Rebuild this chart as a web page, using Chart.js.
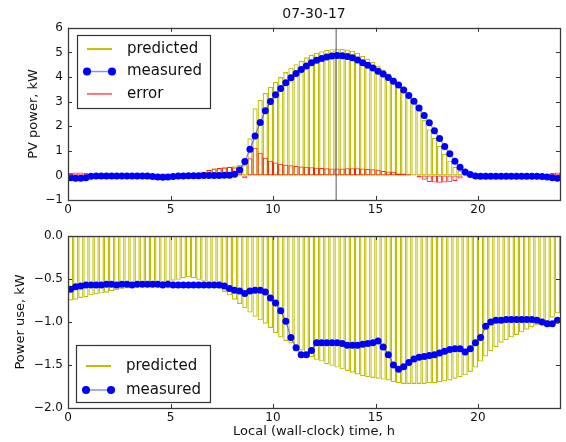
<!DOCTYPE html>
<html><head><meta charset="utf-8">
<script src="https://cdn.jsdelivr.net/npm/chart.js@4.4.1/dist/chart.umd.min.js"></script>
<style>
html,body{margin:0;padding:0;background:#fff;}
#wrap{position:relative;width:566px;height:442px;overflow:hidden;}
canvas{position:absolute;left:0;}
#c1{top:0;} #c2{top:222px;}
</style></head><body>
<div id="wrap"><canvas id="c1" width="566" height="222"></canvas><canvas id="c2" width="566" height="220"></canvas></div>
<script>
const chartTitle = '07-30-17';
const slotLength = 0.25;           // hours per interval
const slotCount = 96;
const slotHours = Array.from({length: slotCount}, (_, i) => i * slotLength + slotLength / 2);

const xTicks = [0, 5, 10, 15, 20];
const pvTicks = [-1, 0, 1, 2, 3, 4, 5, 6];
const useTicks = [-2, -1.5, -1, -0.5, 0];
const nowMarker = 13.08;

const pvPredicted = [
  0,0,0,0,0,0,0,0,0,0,0,0,
  0,0,0,0,0,0,0,0,0,0,0,0,
  0,0.05,0.15,0.22,0.28,0.30,0.33,0.35,0.37,0.42,0.44,1.51,
  2.73,3.07,3.35,3.60,3.80,4.00,4.20,4.38,4.52,4.66,4.80,4.90,
  4.98,5.05,5.10,5.13,5.15,5.14,5.12,5.07,4.98,4.86,4.74,4.62,
  4.46,4.30,4.14,3.98,3.75,3.55,3.30,3.00,2.65,2.25,1.87,1.53,
  1.20,0.88,0.60,0.35,0.20,0.12,0.05,0,0,0,0,0,
  0,0,0,0,0,0,0,0,0,0,0,0
];
const pvMeasured = [
  -0.10,-0.12,-0.12,-0.10,-0.03,-0.02,-0.02,-0.02,-0.02,-0.02,-0.02,-0.02,
  -0.02,-0.02,-0.02,-0.02,-0.04,-0.07,-0.08,-0.06,-0.04,-0.02,-0.02,-0.01,
  -0.01,-0.01,0.00,0.00,0.00,0.00,0.01,0.01,0.05,0.22,0.56,1.06,
  1.60,2.15,2.63,3.00,3.28,3.53,3.77,3.97,4.14,4.30,4.45,4.58,
  4.68,4.75,4.81,4.85,4.87,4.86,4.83,4.78,4.69,4.58,4.48,4.37,
  4.23,4.12,3.98,3.83,3.67,3.47,3.25,3.01,2.74,2.43,2.14,1.82,
  1.50,1.17,0.88,0.58,0.33,0.14,0.04,-0.02,-0.03,-0.03,-0.03,-0.03,
  -0.03,-0.03,-0.03,-0.03,-0.03,-0.03,-0.03,-0.03,-0.04,-0.06,-0.10,-0.12
];
const pvError = [
  0.10,0.12,0.12,0.10,0.03,0.02,0.02,0.02,0.02,0.02,0.02,0.02,
  0.02,0.02,0.02,0.02,0.04,0.07,0.08,0.06,0.04,0.02,0.02,0.01,
  0.01,0.06,0.15,0.22,0.28,0.30,0.32,0.34,0.32,0.20,-0.12,0.70,
  1.12,0.92,0.72,0.60,0.52,0.47,0.43,0.41,0.38,0.36,0.35,0.33,
  0.31,0.30,0.29,0.28,0.28,0.28,0.29,0.29,0.29,0.28,0.26,0.25,
  0.23,0.18,0.16,0.15,0.08,0.08,0.05,-0.01,-0.09,-0.18,-0.27,-0.29,
  -0.30,-0.29,-0.28,-0.23,-0.13,-0.02,0.01,0.02,0.03,0.03,0.03,0.03,
  0.03,0.03,0.03,0.03,0.03,0.03,0.03,0.03,0.04,0.06,0.10,0.12
];
const usePredicted = [
  -0.75,-0.74,-0.72,-0.71,-0.69,-0.68,-0.67,-0.66,-0.64,-0.63,-0.62,-0.61,
  -0.59,-0.58,-0.57,-0.56,-0.55,-0.55,-0.54,-0.53,-0.52,-0.51,-0.49,-0.48,
  -0.49,-0.51,-0.53,-0.55,-0.57,-0.60,-0.65,-0.69,-0.74,-0.79,-0.84,-0.89,
  -0.94,-0.98,-1.02,-1.07,-1.13,-1.18,-1.22,-1.25,-1.29,-1.33,-1.37,-1.41,
  -1.44,-1.46,-1.49,-1.51,-1.53,-1.55,-1.57,-1.59,-1.61,-1.63,-1.64,-1.65,
  -1.66,-1.67,-1.68,-1.70,-1.71,-1.72,-1.72,-1.72,-1.72,-1.72,-1.71,-1.71,
  -1.70,-1.69,-1.68,-1.66,-1.64,-1.62,-1.58,-1.53,-1.46,-1.40,-1.34,-1.29,
  -1.24,-1.21,-1.18,-1.15,-1.12,-1.09,-1.06,-1.04,-1.02,-0.99,-0.95,-0.90
];
const useMeasured = [
  -0.62,-0.59,-0.58,-0.57,-0.57,-0.57,-0.57,-0.56,-0.56,-0.57,-0.56,-0.56,
  -0.57,-0.56,-0.56,-0.56,-0.56,-0.56,-0.57,-0.56,-0.57,-0.57,-0.57,-0.57,
  -0.57,-0.57,-0.57,-0.57,-0.57,-0.57,-0.58,-0.61,-0.63,-0.64,-0.67,-0.64,
  -0.63,-0.63,-0.65,-0.72,-0.78,-0.87,-0.99,-1.18,-1.30,-1.38,-1.38,-1.33,
  -1.24,-1.24,-1.24,-1.24,-1.24,-1.25,-1.27,-1.27,-1.27,-1.26,-1.25,-1.24,
  -1.22,-1.29,-1.38,-1.50,-1.55,-1.52,-1.47,-1.43,-1.41,-1.40,-1.39,-1.38,
  -1.36,-1.34,-1.32,-1.31,-1.31,-1.35,-1.31,-1.24,-1.18,-1.05,-1.00,-0.98,
  -0.98,-0.97,-0.97,-0.97,-0.97,-0.97,-0.97,-0.98,-1.00,-1.02,-1.02,-0.98
];

Chart.defaults.font.family = '"DejaVu Sans", sans-serif';
Chart.defaults.color = '#111';

const YEL = '#bfbf00', BLUE = '#0000ff', BLUE_LINE = 'rgba(0,0,255,0.45)', RED = 'rgba(255,0,0,0.8)', RED_LEG = 'rgba(255,0,0,0.55)';
const pts = vals => vals.map((v, i) => ({x: slotHours[i], y: v}));
const minus = s => String(s).replace('-', '\u2212');

const mplDecor = {
  id: 'mplDecor',
  afterDraw(chart, args, opts) {
    const ctx = chart.ctx, a = chart.chartArea, xs = chart.scales.x, ys = chart.scales.y;
    ctx.save();
    ctx.strokeStyle = '#333'; ctx.lineWidth = 1;
    ctx.beginPath();
    xs.ticks.forEach(t => {
      const p = Math.round(xs.getPixelForValue(t.value)) + 0.5;
      ctx.moveTo(p, a.bottom); ctx.lineTo(p, a.bottom - 4);
      ctx.moveTo(p, a.top); ctx.lineTo(p, a.top + 4);
    });
    ys.ticks.forEach(t => {
      const p = Math.round(ys.getPixelForValue(t.value)) + 0.5;
      ctx.moveTo(a.left, p); ctx.lineTo(a.left + 4, p);
      ctx.moveTo(a.right, p); ctx.lineTo(a.right - 4, p);
    });
    ctx.stroke();
    ctx.lineWidth = 1.3; ctx.strokeStyle = '#3a3a3a';
    ctx.strokeRect(Math.round(a.left) + 0.5, Math.round(a.top) + 0.5, Math.round(a.right - a.left), Math.round(a.bottom - a.top));
    // legend
    const L = opts;
    const items = chart.data.datasets.filter(d => d.label);
    const bx = a.left + L.dx, by = L.fromBottom ? a.bottom - L.dy - L.h : a.top + L.dy;
    ctx.fillStyle = '#fff';
    ctx.fillRect(bx, by, L.w, L.h);
    ctx.lineWidth = 1.2; ctx.strokeStyle = '#333';
    ctx.strokeRect(Math.round(bx) + 0.5, Math.round(by) + 0.5, L.w, L.h);
    ctx.font = '15px "DejaVu Sans"'; ctx.textBaseline = 'middle'; ctx.textAlign = 'left';
    items.forEach((d, k) => {
      const y = by + L.row0 + k * L.step;
      const x0 = bx + 10, x1 = bx + 35;
      if (d.type === 'line') {
        ctx.strokeStyle = d.borderColor; ctx.lineWidth = 1.5;
        ctx.beginPath(); ctx.moveTo(x0, y); ctx.lineTo(x1, y); ctx.stroke();
        ctx.fillStyle = d.pointBackgroundColor;
        [x0, x1].forEach(x => { ctx.beginPath(); ctx.arc(x, y, 4, 0, Math.PI * 2); ctx.fill(); });
      } else {
        ctx.strokeStyle = d.legendColor || d.borderColor; ctx.lineWidth = 2;
        ctx.beginPath(); ctx.moveTo(x0, y); ctx.lineTo(x1, y); ctx.stroke();
      }
      ctx.fillStyle = '#111';
      ctx.fillText(d.label, bx + 50, y);
    });
    ctx.restore();
  }
};

function barSet(label, vals, color, order, legendColor, bw) {
  return {type: 'bar', label, data: pts(vals), borderColor: color, legendColor, backgroundColor: 'rgba(0,0,0,0)',
    borderWidth: bw || 1, borderSkipped: false, grouped: false, categoryPercentage: 1, barPercentage: 1, inflateAmount: 0, order};
}
function dotSet(label, vals) {
  return {type: 'line', label, data: pts(vals), borderColor: BLUE_LINE, borderWidth: 1.2, tension: 0,
    pointRadius: 3.5, pointBackgroundColor: BLUE, pointBorderColor: BLUE, pointBorderWidth: 0, order: 0};
}
function xScale(height, titleOn) {
  return {type: 'linear', min: 0, max: 24, offset: false,
    grid: {display: false, drawTicks: false}, border: {display: false},
    afterBuildTicks: s => { s.ticks = xTicks.map(v => ({value: v})); },
    ticks: {font: {size: 12}, color: '#111', padding: 3, maxRotation: 0, autoSkip: false},
    title: titleOn ? {display: true, text: 'Local (wall-clock) time, h', font: {size: 13}, color: '#111', padding: {top: 0, bottom: 3}} : {display: false},
    afterFit: s => { s.height = height; }};
}
function yScale(min, max, tickVals, fmt, title, tpad) {
  return {type: 'linear', min, max,
    grid: {display: false, drawTicks: false}, border: {display: false},
    afterBuildTicks: s => { s.ticks = tickVals.map(v => ({value: v})); },
    ticks: {font: {size: 12}, color: '#111', padding: 5, callback: fmt, autoSkip: false},
    title: {display: true, text: title, font: {size: 13}, color: '#111', padding: {top: tpad, bottom: 0}},
    afterFit: s => { s.width = 68; }};
}

new Chart(document.getElementById('c1'), {
  type: 'bar',
  data: {datasets: [
    barSet('predicted', pvPredicted, YEL, 3, null, 1.15),
    dotSet('measured', pvMeasured),
    barSet('error', pvError, RED, 1, RED_LEG, 1),
    {type: 'line', label: '', data: [{x: nowMarker, y: pvTicks[0]}, {x: nowMarker, y: pvTicks[pvTicks.length - 1]}],
      borderColor: '#555', borderWidth: 1, pointRadius: 0, order: 2}
  ]},
  options: {
    responsive: false, animation: false, devicePixelRatio: 1,
    layout: {padding: {left: 0, right: 6, top: 0, bottom: 0}},
    plugins: {legend: {display: false}, tooltip: {enabled: false},
      title: {display: true, text: chartTitle, fullSize: false, font: {size: 14, weight: 'normal'}, color: '#111', padding: {top: 6, bottom: 5}},
      mplDecor: {dx: 9, dy: 7, w: 133, h: 73, row0: 14.3, step: 22.4, fromBottom: false}},
    scales: {
      x: xScale(22, false),
      y: yScale(-1, 6, pvTicks, v => minus(v), 'PV power, kW', 26)
    }
  },
  plugins: [mplDecor]
});

new Chart(document.getElementById('c2'), {
  type: 'bar',
  data: {datasets: [
    barSet('predicted', usePredicted, YEL, 3, null, 1.15),
    dotSet('measured', useMeasured)
  ]},
  options: {
    responsive: false, animation: false, devicePixelRatio: 1,
    layout: {padding: {left: 0, right: 6, top: 14, bottom: 0}},
    plugins: {legend: {display: false}, tooltip: {enabled: false},
      mplDecor: {dx: 8, dy: 6, w: 134, h: 57, row0: 21, step: 24, fromBottom: true}},
    scales: {
      x: xScale(34, true),
      y: yScale(-2, 0, useTicks, v => minus(Number(v).toFixed(1)), 'Power use, kW', 13)
    }
  },
  plugins: [mplDecor]
});
</script>
</body></html>
